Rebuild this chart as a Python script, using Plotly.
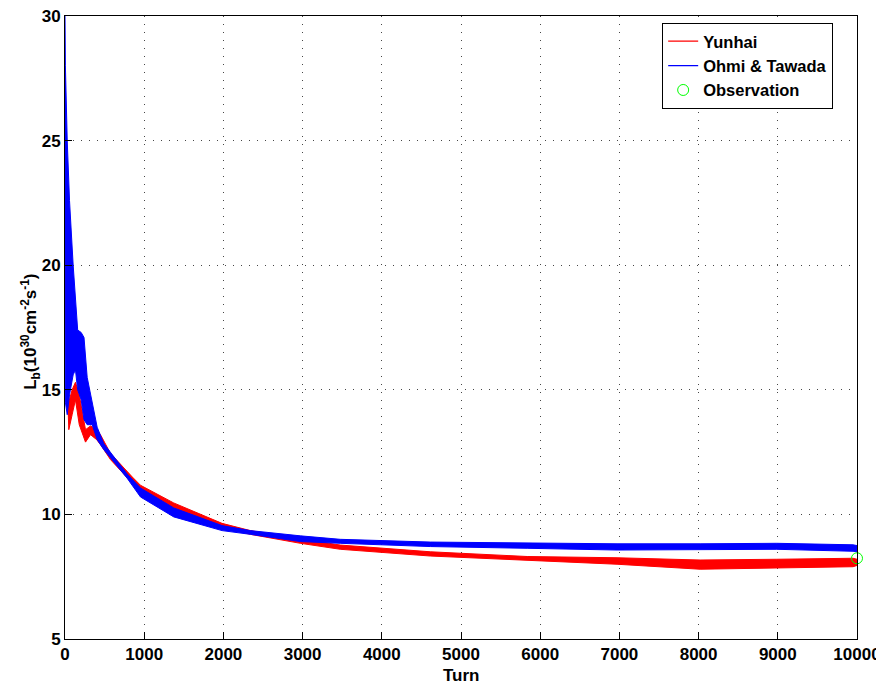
import plotly.graph_objects as go

# ---- data (envelopes of the rapidly oscillating curves) ----
yunhai_turn = [0, 15, 48, 90, 132, 180, 259, 322, 400, 448, 574, 700, 850, 953,
               1373, 1983, 2340, 2971, 3475, 4612, 5835, 6970, 8019, 8987, 9950, 10000]
yunhai_low = [25.0, 16.5, 13.4, 14.0, 14.6, 13.6, 12.9, 13.2, 13.0, 12.8, 12.2, 11.75, 11.25, 10.9,
              10.25, 9.48, 9.2, 8.84, 8.6, 8.33, 8.17, 8.0, 7.8, 7.84, 7.9, 7.95]
yunhai_high = [27.7, 19.0, 14.5, 15.0, 15.3, 14.8, 13.4, 13.55, 13.4, 13.2, 12.45, 12.0, 11.5, 11.17,
               10.46, 9.64, 9.35, 9.02, 8.77, 8.5, 8.31, 8.26, 8.17, 8.2, 8.24, 8.2]

ohmi_turn = [0, 5, 28, 57, 103, 132, 160, 204, 240, 280, 343, 406, 490, 616, 785,
             953, 1373, 1983, 2340, 2971, 3475, 4612, 5835, 6970, 8019, 8987, 9950, 10000]
ohmi_low = [22.0, 14.5, 14.0, 14.8, 15.6, 15.8, 15.0, 14.6, 13.8, 13.6, 13.6, 13.0, 12.6, 12.1, 11.45,
            10.7, 9.9, 9.35, 9.2, 8.91, 8.84, 8.71, 8.64, 8.57, 8.6, 8.6, 8.52, 8.5]
ohmi_high = [30.0, 28.0, 25.0, 22.6, 20.0, 18.8, 17.4, 17.3, 17.1, 15.5, 14.57, 13.5, 12.84, 12.3, 11.62,
             11.06, 10.26, 9.55, 9.35, 9.14, 9.0, 8.89, 8.84, 8.82, 8.82, 8.84, 8.78, 8.75]

obs_turn = [10000]
obs_value = [8.24]

x_ticks = [0, 1000, 2000, 3000, 4000, 5000, 6000, 7000, 8000, 9000, 10000]
y_ticks = [5, 10, 15, 20, 25, 30]

RED = "rgb(255,0,0)"
BLUE = "rgb(0,0,255)"
GREEN = "rgb(0,255,0)"
FONT = "Liberation Sans, Arial, sans-serif"

fig = go.Figure()


def add_band(turn, low, high, color, name):
    fig.add_trace(go.Scatter(
        x=list(turn) + list(turn)[::-1],
        y=list(high) + list(low)[::-1],
        fill="toself", fillcolor=color, mode="lines",
        line=dict(color=color, width=1), showlegend=False, hoverinfo="skip",
    ))
    mid = [(a + b) / 2 for a, b in zip(low, high)]
    fig.add_trace(go.Scatter(
        x=turn, y=mid, mode="lines", name=name,
        line=dict(color=color, width=1.2),
    ))


add_band(yunhai_turn, yunhai_low, yunhai_high, RED, "Yunhai")
add_band(ohmi_turn, ohmi_low, ohmi_high, BLUE, "Ohmi &amp; Tawada")

fig.add_trace(go.Scatter(
    x=obs_turn, y=obs_value, mode="markers", name="Observation",
    marker=dict(symbol="circle-open", size=11, color=GREEN, line=dict(width=1, color=GREEN)),
    cliponaxis=False,
))

axis_common = dict(
    showline=True, linecolor="black", linewidth=1, mirror=True,
    ticks="inside", ticklen=7, tickcolor="black", tickwidth=1,
    showgrid=True, gridcolor="rgb(70,70,70)", griddash="1px,7px", gridwidth=1,
    zeroline=False, automargin=False, ticklabeloverflow="allow",
    tickfont=dict(family=FONT, size=17, color="black", weight="bold"),
)

fig.update_xaxes(range=[0, 10000], tickmode="array", tickvals=x_ticks,
                 ticktext=[str(v) for v in x_ticks], **axis_common)
fig.update_yaxes(range=[5, 30], tickmode="array", tickvals=y_ticks,
                 ticktext=[str(v) for v in y_ticks], **axis_common)

# axis titles as annotations for exact placement
fig.add_annotation(text="Turn", xref="paper", yref="paper", x=0.5, y=-0.058,
                   xanchor="center", yanchor="middle", showarrow=False,
                   font=dict(family=FONT, size=17, color="black", weight="bold"))
fig.add_annotation(text="L<sub>b</sub>(10<sup>30</sup>cm<sup>-2</sup>s<sup>-1</sup>)",
                   xref="paper", yref="paper", x=-0.043, y=0.493, textangle=-90,
                   xanchor="center", yanchor="middle", showarrow=False,
                   font=dict(family=FONT, size=17, color="black", weight="bold"))

# page body has an 8px margin: figure is sized/offset to compensate
fig.update_layout(
    width=876, height=677,
    margin=dict(l=57, r=27, t=8, b=46),
    paper_bgcolor="white", plot_bgcolor="white",
    font=dict(family=FONT, color="black"),
    legend=dict(
        x=0.754, y=0.989, xanchor="left", yanchor="top",
        bordercolor="black", borderwidth=1, bgcolor="white",
        font=dict(family=FONT, size=16.5, color="black", weight="bold"),
        tracegroupgap=0,
    ),
    showlegend=True,
)

fig.write_html("out.html")
